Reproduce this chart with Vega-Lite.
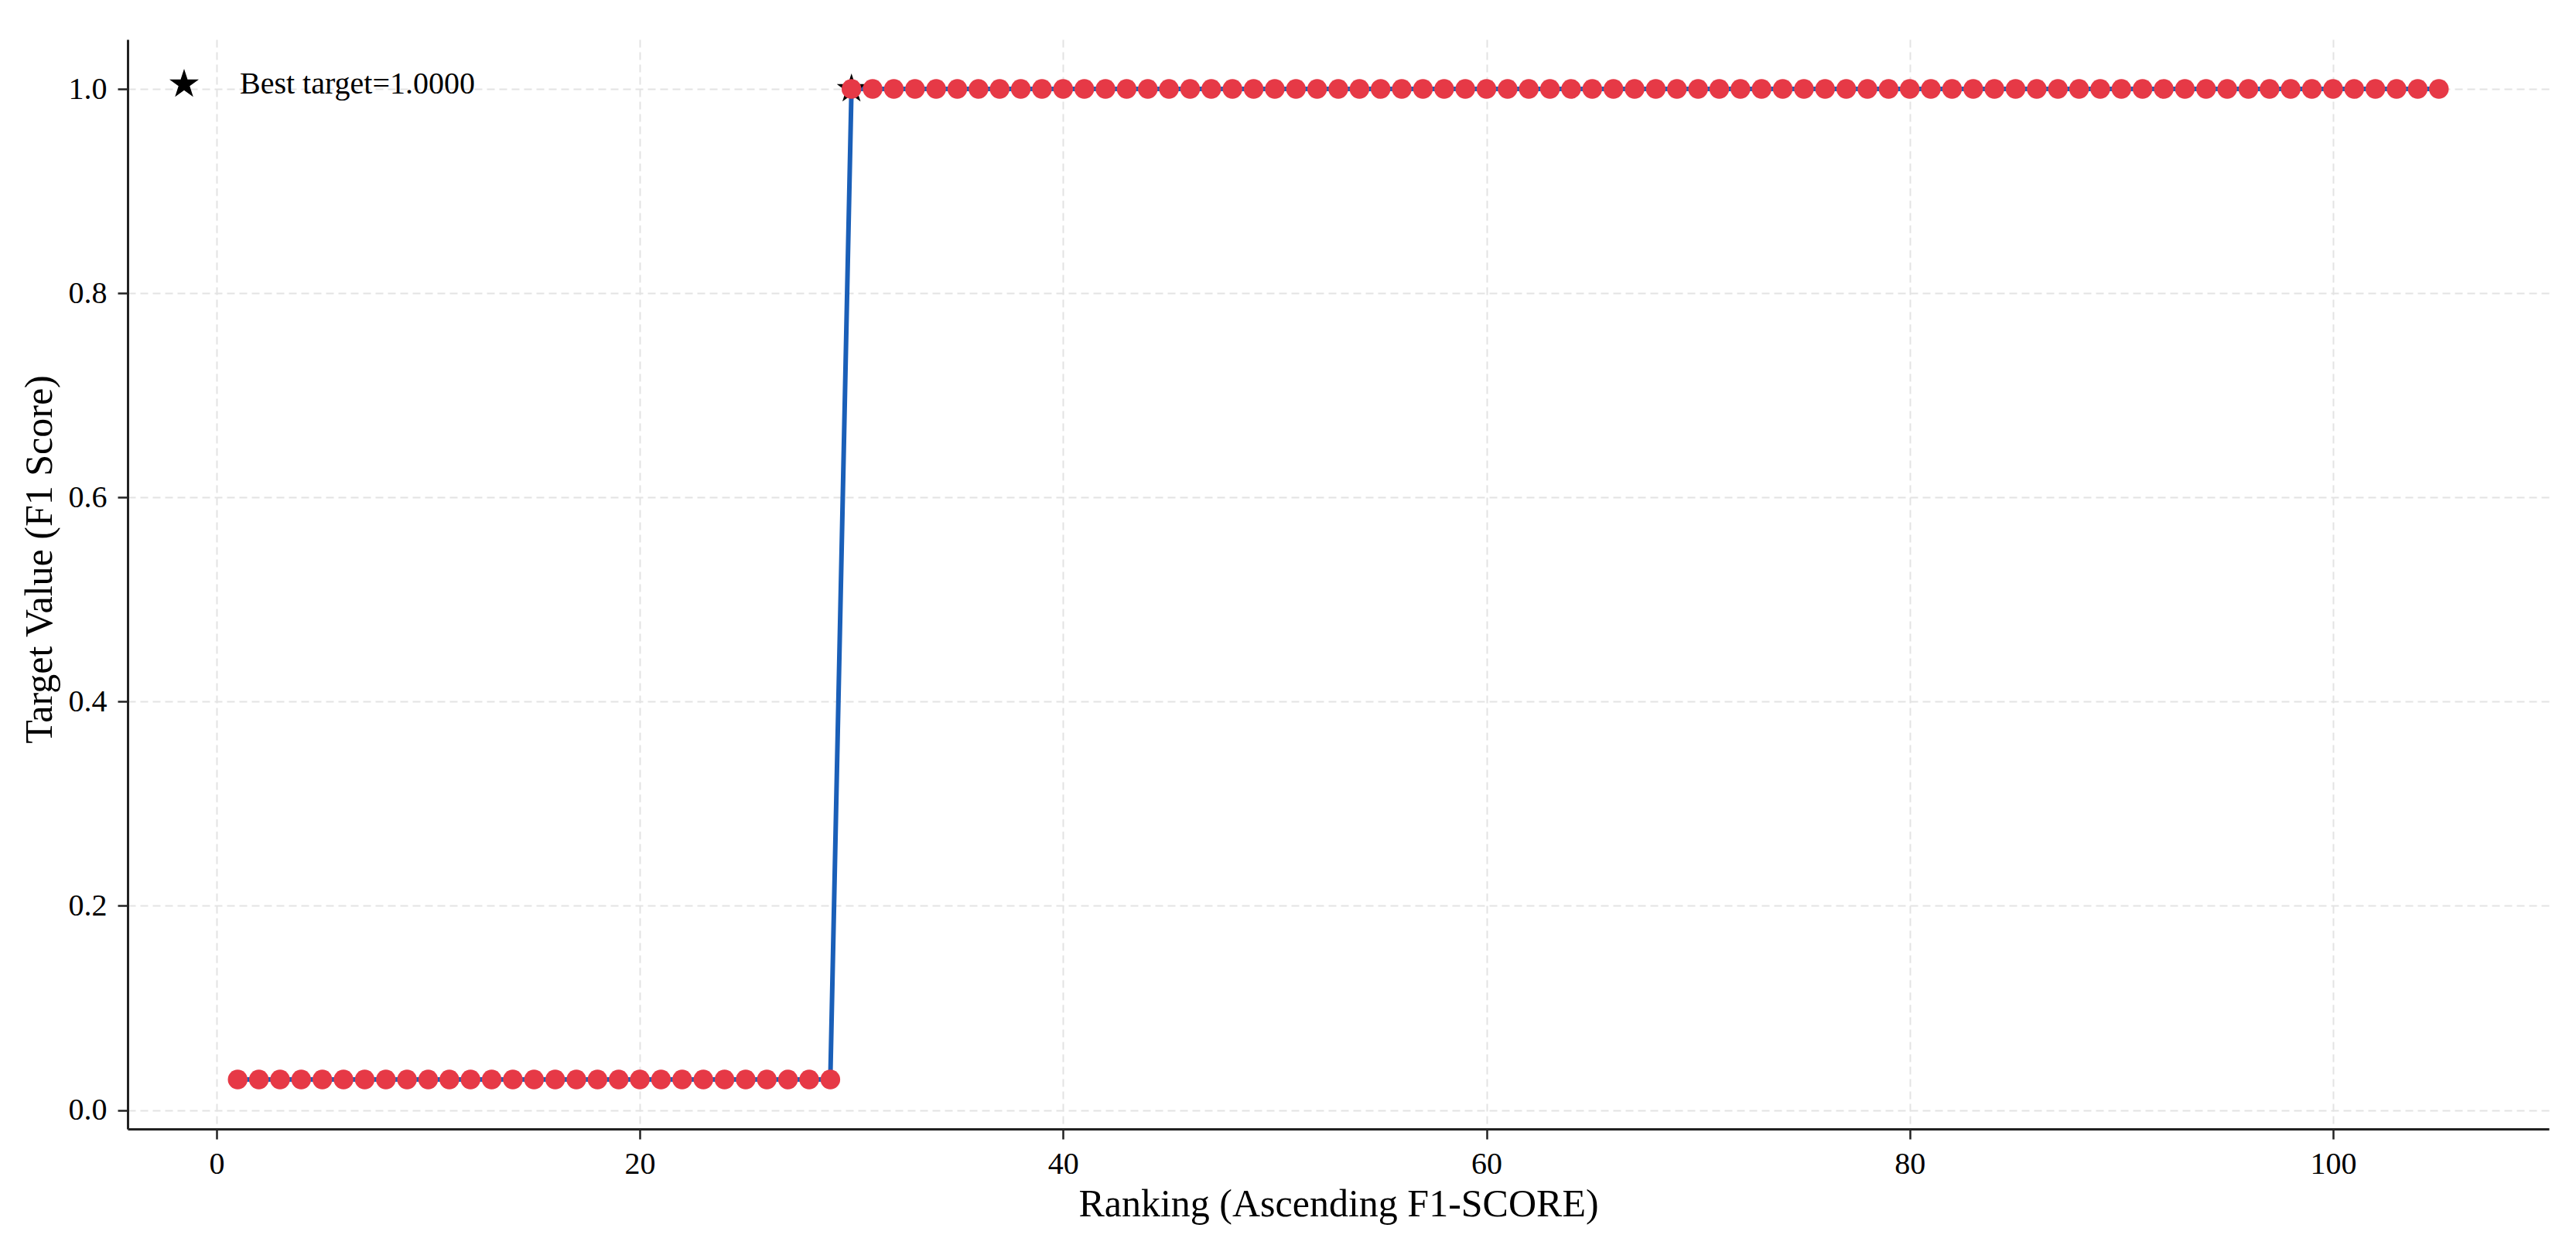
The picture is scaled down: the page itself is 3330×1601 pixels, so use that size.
{
  "$schema": "https://vega.github.io/schema/vega-lite/v6.json",
  "autosize": {"type": "none"},
  "width": 3130,
  "height": 1409,
  "padding": {"left": 165, "top": 51, "right": 35, "bottom": 141},
  "background": "white",
  "config": {
    "view": {"stroke": null},
    "font": "Liberation Serif",
    "axis": {
      "labelFont": "Liberation Serif",
      "titleFont": "Liberation Serif",
      "labelFontSize": 40,
      "titleFontSize": 50,
      "titleFontWeight": "normal",
      "labelColor": "#000000",
      "titleColor": "#000000",
      "domainColor": "#222222",
      "domainWidth": 3,
      "tickColor": "#222222",
      "tickWidth": 2.5,
      "tickSize": 13,
      "grid": true,
      "gridColor": "#e3e3e3",
      "gridDash": [10, 6],
      "gridWidth": 2
    },
    "legend": {
      "labelFont": "Liberation Serif"
    }
  },
  "datasets": {
    "trials": [
      {"rank": 1, "target": 0.03}, {"rank": 2, "target": 0.03}, {"rank": 3, "target": 0.03},
      {"rank": 4, "target": 0.03}, {"rank": 5, "target": 0.03}, {"rank": 6, "target": 0.03},
      {"rank": 7, "target": 0.03}, {"rank": 8, "target": 0.03}, {"rank": 9, "target": 0.03},
      {"rank": 10, "target": 0.03}, {"rank": 11, "target": 0.03}, {"rank": 12, "target": 0.03},
      {"rank": 13, "target": 0.03}, {"rank": 14, "target": 0.03}, {"rank": 15, "target": 0.03},
      {"rank": 16, "target": 0.03}, {"rank": 17, "target": 0.03}, {"rank": 18, "target": 0.03},
      {"rank": 19, "target": 0.03}, {"rank": 20, "target": 0.03}, {"rank": 21, "target": 0.03},
      {"rank": 22, "target": 0.03}, {"rank": 23, "target": 0.03}, {"rank": 24, "target": 0.03},
      {"rank": 25, "target": 0.03}, {"rank": 26, "target": 0.03}, {"rank": 27, "target": 0.03},
      {"rank": 28, "target": 0.03}, {"rank": 29, "target": 0.03},
      {"rank": 30, "target": 1.0}, {"rank": 31, "target": 1.0}, {"rank": 32, "target": 1.0},
      {"rank": 33, "target": 1.0}, {"rank": 34, "target": 1.0}, {"rank": 35, "target": 1.0},
      {"rank": 36, "target": 1.0}, {"rank": 37, "target": 1.0}, {"rank": 38, "target": 1.0},
      {"rank": 39, "target": 1.0}, {"rank": 40, "target": 1.0}, {"rank": 41, "target": 1.0},
      {"rank": 42, "target": 1.0}, {"rank": 43, "target": 1.0}, {"rank": 44, "target": 1.0},
      {"rank": 45, "target": 1.0}, {"rank": 46, "target": 1.0}, {"rank": 47, "target": 1.0},
      {"rank": 48, "target": 1.0}, {"rank": 49, "target": 1.0}, {"rank": 50, "target": 1.0},
      {"rank": 51, "target": 1.0}, {"rank": 52, "target": 1.0}, {"rank": 53, "target": 1.0},
      {"rank": 54, "target": 1.0}, {"rank": 55, "target": 1.0}, {"rank": 56, "target": 1.0},
      {"rank": 57, "target": 1.0}, {"rank": 58, "target": 1.0}, {"rank": 59, "target": 1.0},
      {"rank": 60, "target": 1.0}, {"rank": 61, "target": 1.0}, {"rank": 62, "target": 1.0},
      {"rank": 63, "target": 1.0}, {"rank": 64, "target": 1.0}, {"rank": 65, "target": 1.0},
      {"rank": 66, "target": 1.0}, {"rank": 67, "target": 1.0}, {"rank": 68, "target": 1.0},
      {"rank": 69, "target": 1.0}, {"rank": 70, "target": 1.0}, {"rank": 71, "target": 1.0},
      {"rank": 72, "target": 1.0}, {"rank": 73, "target": 1.0}, {"rank": 74, "target": 1.0},
      {"rank": 75, "target": 1.0}, {"rank": 76, "target": 1.0}, {"rank": 77, "target": 1.0},
      {"rank": 78, "target": 1.0}, {"rank": 79, "target": 1.0}, {"rank": 80, "target": 1.0},
      {"rank": 81, "target": 1.0}, {"rank": 82, "target": 1.0}, {"rank": 83, "target": 1.0},
      {"rank": 84, "target": 1.0}, {"rank": 85, "target": 1.0}, {"rank": 86, "target": 1.0},
      {"rank": 87, "target": 1.0}, {"rank": 88, "target": 1.0}, {"rank": 89, "target": 1.0},
      {"rank": 90, "target": 1.0}, {"rank": 91, "target": 1.0}, {"rank": 92, "target": 1.0},
      {"rank": 93, "target": 1.0}, {"rank": 94, "target": 1.0}, {"rank": 95, "target": 1.0},
      {"rank": 96, "target": 1.0}, {"rank": 97, "target": 1.0}, {"rank": 98, "target": 1.0},
      {"rank": 99, "target": 1.0}, {"rank": 100, "target": 1.0}, {"rank": 101, "target": 1.0},
      {"rank": 102, "target": 1.0}, {"rank": 103, "target": 1.0}, {"rank": 104, "target": 1.0},
      {"rank": 105, "target": 1.0}
    ],
    "best": [
      {"rank": 30, "target": 1.0, "label": "Best target=1.0000"}
    ]
  },
  "encoding": {
    "x": {
      "field": "rank",
      "type": "quantitative",
      "scale": {"domain": [-4.2, 110.2], "nice": false, "zero": false},
      "axis": {
        "title": "Ranking (Ascending F1-SCORE)",
        "values": [0, 20, 40, 60, 80, 100],
        "format": "d",
        "labelPadding": 12,
        "titleY": 97,
        "titleBaseline": "middle"
      }
    },
    "y": {
      "field": "target",
      "type": "quantitative",
      "scale": {"domain": [-0.0185, 1.0485], "nice": false, "zero": false},
      "axis": {
        "title": "Target Value (F1 Score)",
        "values": [0, 0.2, 0.4, 0.6, 0.8, 1.0],
        "format": ".1f",
        "labelPadding": 14,
        "titleX": -114,
        "titleY": 672,
        "titleAngle": -90,
        "titleAlign": "center",
        "titleBaseline": "middle"
      }
    }
  },
  "layer": [
    {
      "data": {"name": "trials"},
      "mark": {"type": "line", "color": "#1a5fb8", "strokeWidth": 6}
    },
    {
      "data": {"name": "best"},
      "mark": {"type": "point", "filled": true, "color": "#000000", "size": 1600, "opacity": 1},
      "encoding": {
        "shape": {
          "field": "label",
          "type": "nominal",
          "scale": {"range": ["M0,-1L0.2245,-0.309L0.951,-0.309L0.3633,0.118L0.588,0.809L0,0.382L-0.588,0.809L-0.3633,0.118L-0.951,-0.309L-0.2245,-0.309Z"]},
          "legend": {
            "title": null,
            "orient": "none",
            "legendX": 53,
            "legendY": 38,
            "padding": 0,
            "symbolSize": 1600,
            "symbolFillColor": "#000000",
            "symbolStrokeWidth": 0,
            "symbolOpacity": 1,
            "labelFontSize": 40,
            "labelOffset": 52,
            "labelColor": "#000000",
            "labelLimit": 1000
          }
        }
      }
    },
    {
      "data": {"name": "trials"},
      "mark": {"type": "point", "shape": "circle", "filled": true, "color": "#e63946", "size": 650, "opacity": 1}
    }
  ]
}
